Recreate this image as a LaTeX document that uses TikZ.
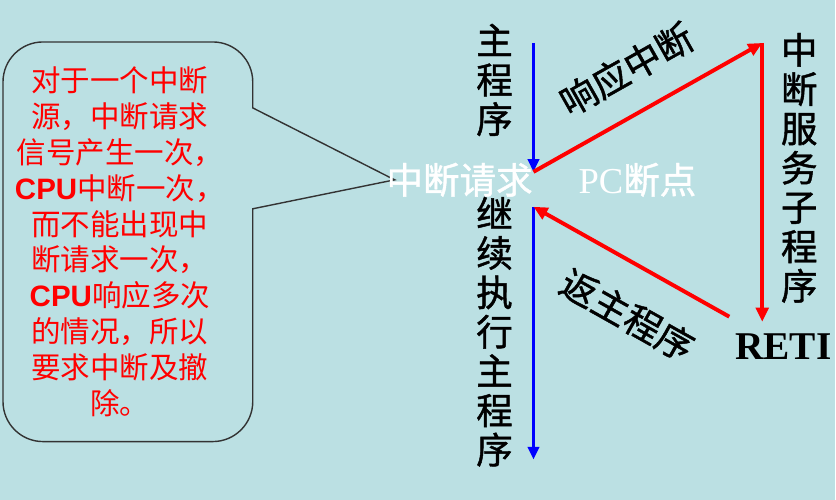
\documentclass[tikz,border=0pt]{standalone}
\usepackage{fontspec}
\setmainfont{Liberation Serif}
\newfontfamily\cjk{Noto Sans CJK SC}
\newfontfamily\cjkdark[FakeBold=1.2]{Noto Sans CJK SC}
\newfontfamily\arial{Liberation Sans}
\usetikzlibrary{arrows.meta,positioning}
\definecolor{bgcyan}{RGB}{187,224,227}
\tikzset{
    flow/.style={
    draw=blue,line width=2.2pt,-{Triangle[length=9pt,width=8pt]}
    },
    jump/.style={
    draw=red,line width=2.8pt,-{Triangle[length=10pt,width=9pt]}
    },
    column/.style={
    align=center,font=\cjkdark\fontsize{26}{28}\selectfont,text=black,inner sep=0pt
    },
    tag/.style={
    font=\cjkdark\fontsize{26}{28}\selectfont,text=black
    },
    hint/.style={
    font=\fontsize{26}{30}\selectfont,text=white
    },
    callout/.style={
    draw=black!80,line width=1pt
    },
}

\begin{document}
\begin{tikzpicture}[x=0.025cm,y=-0.025cm]
   \fill[bgcyan] (0,0) rectangle (836,500);

   % callout on the left
   \draw[callout] (253,108) -- (395,180) -- (253,209) [rounded corners=1cm]
      -- (253,442) -- (3,442) -- (3,42) -- (253,42) [sharp corners] -- cycle;
   \node[align=center,text=red,font=\cjk\fontsize{21}{25.5}\selectfont] (note) at (120,242)
      {对于一个中断\\源，中断请求\\信号产生一次，\\{\arial\bfseries CPU}中断一次，\\而不能出现中\\断请求一次，\\{\arial\bfseries CPU}响应多次\\的情况，所以\\要求中断及撤\\除。};

   % program flow
   \coordinate (top) at (534,43);
   \coordinate (irq) at (534,172);
   \coordinate (resume) at (534,207);
   \coordinate (end) at (534,460);
   \coordinate (isr) at (763,43);
   \coordinate (ret) at (763,322);
   \coordinate (leave) at (730,317);

   \node[column] (main) at (495,80) {主\\程\\序};
   \node[column] (cont) at (495,332) {继\\续\\执\\行\\主\\程\\序};
   \node[column] (serv) at (800,168) {中\\断\\服\\务\\子\\程\\序};
   \node[font=\bfseries\fontsize{28}{30}\selectfont] (RETI) at (784,347) {RETI};

   \node[hint,font=\cjkdark\fontsize{26}{30}\selectfont] (req) at (460,180) {中断请求};
   \node[hint] (pc) at (638,180) {PC{\cjkdark 断点}};

   \draw[flow] (top) -- (irq);
   \draw[flow] (resume) -- (end);
   \draw[jump] (irq) -- node[sloped,above=0.5cm,tag] {响应中断} (isr);
   \draw[jump] (isr) -- (ret);
   \draw[jump] (leave) -- node[sloped,pos=0.4,below=0.62cm,tag] {返主程序} (resume);
\end{tikzpicture}
\end{document}
